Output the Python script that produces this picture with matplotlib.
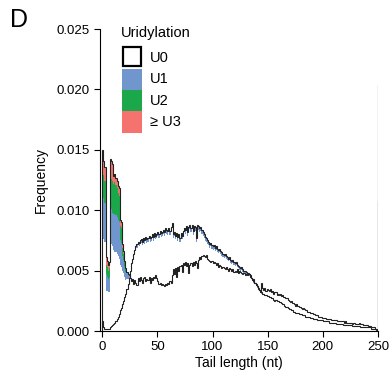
import numpy as np
import matplotlib
matplotlib.use("Agg")
import matplotlib.pyplot as plt
from matplotlib.patches import Rectangle

plt.rcParams['font.family'] = ['Liberation Sans', 'DejaVu Sans']

# Tail length histograms, 1-nt bins from 0 to 249, last bin (250) collects longer tails.
# Values are frequencies x 1e-4.
sample_a_total = [
    8, 3, 2, 2, 2, 2, 2, 3, 4, 5,
    6, 7, 8, 10, 12, 14, 17, 19, 22, 25,
    28, 31, 35, 39, 44, 50, 56, 60, 64, 67,
    70, 72, 74, 73, 75, 76, 74, 77, 75, 78,
    76, 77, 79, 77, 78, 80, 78, 81, 79, 80,
    82, 80, 83, 81, 82, 84, 82, 85, 84, 83,
    85, 83, 86, 89, 80, 82, 79, 81, 78, 80,
    77, 81, 79, 83, 85, 84, 87, 82, 86, 88,
    85, 88, 83, 87, 86, 77, 88, 87, 85, 86,
    84, 82, 80, 78, 77, 75, 74, 72, 73, 71,
    70, 71, 69, 70, 68, 67, 68, 66, 65, 64,
    63, 64, 62, 61, 60, 61, 59, 58, 59, 57,
    56, 57, 55, 54, 53, 52, 53, 51, 50, 50,
    49, 48, 47, 47, 46, 44, 43, 41, 40, 38,
    37, 36, 34, 33, 32, 31, 31, 30, 30, 29,
    29, 28, 28, 27, 27, 26, 25, 26, 25, 25,
    24, 24, 23, 22, 22, 21, 20, 20, 19, 18,
    18, 17, 17, 16, 16, 15, 15, 15, 14, 14,
    14, 13, 13, 13, 12, 12, 12, 12, 11, 11,
    11, 10, 10, 10, 10, 9, 9, 9, 9, 9,
    8, 8, 8, 8, 8, 8, 7, 7, 7, 7,
    7, 7, 6, 6, 6, 6, 6, 6, 5, 5,
    5, 5, 5, 5, 5, 5, 4, 4, 4, 4,
    4, 4, 4, 4, 3, 3, 3, 3, 3, 3,
    3, 3, 3, 3, 2, 2, 2, 2, 1, 1,
    108,
]

sample_b_total = [
    150, 141, 136, 61, 58, 55, 57, 142, 141, 138,
    128, 130, 127, 124, 120, 118, 92, 90, 72, 66,
    58, 52, 49, 47, 46, 44, 41, 43, 39, 42,
    40, 38, 44, 41, 45, 42, 40, 44, 45, 41,
    43, 42, 45, 40, 44, 42, 45, 44, 46, 44,
    41, 39, 40, 38, 39, 38, 37, 39, 38, 40,
    39, 41, 40, 46, 51, 47, 52, 45, 53, 50,
    54, 55, 49, 56, 55, 57, 54, 56, 48, 55,
    56, 54, 57, 55, 58, 56, 52, 59, 61, 60,
    62, 63, 62, 61, 63, 60, 59, 58, 57, 58,
    56, 57, 56, 55, 56, 53, 55, 54, 52, 53,
    52, 51, 53, 51, 50, 52, 51, 50, 51, 49,
    50, 49, 51, 48, 50, 49, 48, 47, 48, 46,
    47, 46, 48, 47, 45, 44, 42, 43, 40, 39,
    37, 35, 34, 32, 40, 36, 34, 36, 33, 35,
    34, 33, 35, 32, 33, 31, 32, 32, 30, 31,
    30, 31, 29, 30, 28, 28, 27, 27, 26, 25,
    24, 25, 23, 23, 22, 21, 22, 21, 20, 20,
    19, 18, 19, 18, 17, 17, 16, 16, 15, 15,
    15, 14, 14, 13, 13, 13, 12, 12, 12, 11,
    11, 11, 11, 10, 10, 10, 10, 9, 9, 9,
    9, 9, 9, 8, 8, 8, 8, 8, 8, 7,
    8, 7, 7, 7, 7, 7, 6, 7, 7, 6,
    6, 6, 6, 7, 6, 6, 5, 5, 5, 5,
    5, 4, 4, 4, 3, 3, 3, 2, 2, 1,
    204,
]

# uridylated reads in sample B (first 25 nt), x 1e-4
sample_b_u1 = [35, 34, 32, 14, 12, 11, 12, 29, 29, 28,
               30, 32, 31, 30, 30, 30, 20, 20, 12, 11,
               9, 7, 5, 3, 2]
sample_b_u2 = [20, 19, 18, 8, 8, 7, 8, 25, 25, 26,
               25, 26, 25, 24, 22, 22, 12, 12, 7, 5,
               3, 2, 1, 1, 0]
sample_b_u3 = [15, 12, 12, 6, 5, 5, 5, 16, 15, 14,
               6, 7, 6, 6, 6, 6, 5, 5, 3, 2,
               1, 1, 0, 0, 0]

# mono-uridylated fraction of sample A per 10-nt window
sample_a_u1_frac = [0.0, 0.02, 0.04, 0.04, 0.04, 0.04, 0.04, 0.04, 0.04, 0.04,
                    0.04, 0.04, 0.04, 0.03, 0.03, 0.02, 0.02, 0.02, 0.02, 0.02,
                    0.02, 0.02, 0.02, 0.02, 0.02, 0.02]

legend_labels = ['U0', 'U1', 'U2', '\u2265 U3']
colors = ['white', '#7196CE', '#1BA84B', '#F4736F']

edges = np.arange(0, 252)
n_bins = len(edges) - 1


def pad(vals):
    out = np.zeros(n_bins)
    out[:len(vals)] = vals
    return out / 1e4


a_total = np.array(sample_a_total) / 1e4
b_total = np.array(sample_b_total) / 1e4
a_u1 = a_total * np.repeat(sample_a_u1_frac, 10)[:n_bins]
b_u1, b_u2, b_u3 = pad(sample_b_u1), pad(sample_b_u2), pad(sample_b_u3)

W, H = 390, 379
fig = plt.figure(figsize=(W / 100, H / 100), dpi=100)
ax = fig.add_axes([100 / W, 1 - 331 / H, 278 / W, 302 / H])

# sample A: thin U1 band under the outline
ax.stairs(a_total, edges, baseline=a_total - a_u1, fill=True, color=colors[1], lw=0)
ax.stairs(a_total, edges, color='#222222', lw=0.8)

# sample B: stacked U1 / U2 / >=U3 on top of U0
b_u0 = b_total - b_u1 - b_u2 - b_u3
lower = b_u0
for layer, col in zip([b_u1, b_u2, b_u3], colors[1:]):
    ax.stairs(lower + layer, edges, baseline=lower, fill=True, color=col, lw=0)
    lower = lower + layer
ax.stairs(b_total, edges, color='#222222', lw=0.8)

ax.set_xlim(-2, 250)
ax.set_ylim(0, 0.025)
ax.set_xticks([0, 50, 100, 150, 200, 250])
ax.set_yticks([0.0, 0.005, 0.010, 0.015, 0.020, 0.025])
ax.set_yticklabels(['0.000', '0.005', '0.010', '0.015', '0.020', '0.025'])
ax.tick_params(labelsize=9.5, length=4, width=0.8, direction='out')
for side in ['top', 'right']:
    ax.spines[side].set_visible(False)
for side in ['left', 'bottom']:
    ax.spines[side].set_linewidth(0.8)

ax.set_xlabel('Tail length (nt)', fontsize=10, labelpad=2)
ax.set_ylabel('Frequency', fontsize=10, labelpad=6)

# legend keys drawn as touching squares (pixel layout converted to figure fractions)
fig.text(121 / W, 1 - 33 / H, 'Uridylation', fontsize=10.5, va='center', ha='left')
key_top = 47
key_h = 21.5
for i, (lab, col) in enumerate(zip(legend_labels, colors)):
    y0 = key_top + i * key_h
    if i == 0:
        rect = Rectangle((123 / W, 1 - (y0 + 19) / H), 18 / W, 19 / H,
                         facecolor=col, edgecolor='black', linewidth=1.6,
                         transform=fig.transFigure)
    else:
        rect = Rectangle((122 / W, 1 - (y0 + key_h) / H), 20 / W, key_h / H,
                         facecolor=col, edgecolor='none',
                         transform=fig.transFigure)
    fig.add_artist(rect)
    fig.text(150 / W, 1 - (y0 + key_h / 2) / H, lab, fontsize=10.5,
             va='center', ha='left')

fig.text(10 / W, 1 - 8 / H, 'D', fontsize=18, va='top', ha='left')

fig.savefig('out.png', dpi=100)
